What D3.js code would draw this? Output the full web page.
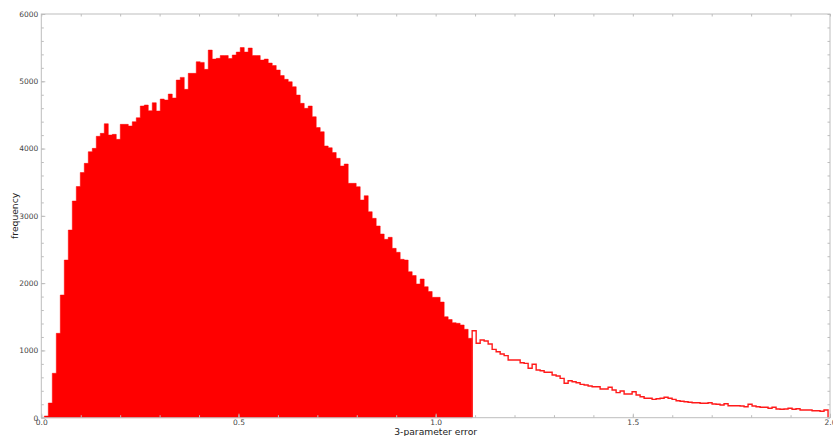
<!DOCTYPE html>
<html>
<head>
<meta charset="utf-8">
<script src="https://cdn.jsdelivr.net/npm/d3@7"></script>
<style>
  html, body { margin: 0; padding: 0; background: #fff; overflow: hidden; }
  svg { display: block; }
  .tick text { font-family: "DejaVu Sans", sans-serif; font-size: 7.5px; fill: #444; }
  .tick line { stroke: #bdbdbd; }
</style>
</head>
<body>
<svg id="chart" width="833" height="436"></svg>
<script>
// ---- data ----
const binStart = 0.0076;      // left edge of the first bin
const binWidth = 0.01014;     // width of each bin
// filled histogram (lower error values)
const filledCounts = [
  25, 218, 660, 1254, 1823, 2343, 2789, 3220, 3436, 3644,
  3780, 3953, 4003, 4182, 4226, 4369, 4201, 4211, 4137, 4360,
  4360, 4335, 4399, 4458, 4632, 4647, 4562, 4681, 4558, 4736,
  4721, 4810, 4751, 5018, 5058, 4880, 5118, 5118, 5290, 5281,
  5177, 5464, 5330, 5341, 5382, 5382, 5338, 5390, 5434, 5501,
  5434, 5494, 5382, 5382, 5315, 5330, 5271, 5234, 5167, 5085,
  5029, 4993, 4919, 4795, 4672, 4598, 4632, 4473, 4312, 4250,
  4038, 4012, 3941, 3855, 3740, 3770, 3483, 3483, 3433, 3235,
  3299, 3061, 2963, 2849, 2730, 2651, 2681, 2517, 2458, 2354,
  2343, 2170, 2113, 1987, 2061, 1947, 1875, 1789, 1789, 1719,
  1501, 1459, 1412, 1403, 1378, 1314, 1180
];
// step (outline) histogram (higher error values)
const stepCounts = [
  1293, 1106, 1155, 1140, 1095, 1016, 981, 947, 922, 857,
  857, 857, 817, 808, 734, 794, 709, 698, 675, 675,
  635, 620, 585, 511, 550, 535, 520, 496, 486, 471,
  461, 461, 426, 426, 452, 412, 372, 397, 352, 352,
  386, 337, 312, 288, 288, 273, 282, 288, 303, 288,
  273, 253, 244, 238, 229, 223, 223, 214, 214, 223,
  204, 199, 189, 208, 178, 178, 178, 174, 163, 199,
  174, 163, 155, 155, 140, 155, 129, 125, 129, 140,
  125, 134, 114, 114, 114, 104, 104, 95, 114
];
const xTicks = [0.0, 0.5, 1.0, 1.5, 2.0];
const xMinorTicks = d3.range(0, 21).map(i => i / 10);
const yTicks = [0, 1000, 2000, 3000, 4000, 5000, 6000];
const yMinorTicks = d3.range(0, 31).map(i => i * 200);
const xLabel = "3-parameter error";
const yLabel = "frequency";

// ---- layout ----
const svg = d3.select("#chart");
const mLeft = 41.3, mRight = 830, mTop = 14, mBottom = 417.7;
const x = d3.scaleLinear().domain([0, 2]).range([mLeft, mRight]);
const y = d3.scaleLinear().domain([0, 6000]).range([mBottom, mTop]);

// bins
const filledBins = filledCounts.map((c, i) => ({
  x0: binStart + i * binWidth, x1: binStart + (i + 1) * binWidth, c }));
const stepStart = binStart + filledCounts.length * binWidth;
const stepBins = stepCounts.map((c, i) => ({
  x0: stepStart + i * binWidth, x1: stepStart + (i + 1) * binWidth, c }));

// filled histogram as a single area path
const fillPts = [[filledBins[0].x0, 0]];
filledBins.forEach(b => { fillPts.push([b.x0, b.c]); fillPts.push([b.x1, b.c]); });
fillPts.push([filledBins[filledBins.length - 1].x1, 0]);
const line = d3.line().x(d => x(d[0])).y(d => y(d[1]));
svg.append("path")
  .attr("d", line(fillPts) + "Z")
  .attr("fill", "#ff0000")
  .attr("stroke", "#ff0000")
  .attr("stroke-width", 0.5);

// step histogram outline
const stepPts = [[stepBins[0].x0, 0]];
stepBins.forEach(b => { stepPts.push([b.x0, b.c]); stepPts.push([b.x1, b.c]); });
stepPts.push([stepBins[stepBins.length - 1].x1, 0]);
svg.append("path")
  .attr("d", line(stepPts))
  .attr("fill", "none")
  .attr("stroke", "#ff1a1a")
  .attr("stroke-width", 1.4);

// axes (ticks pointing inward)
function styleAxis(g) { g.select(".domain").remove(); }
svg.append("g").attr("transform", `translate(0,${mBottom})`)
  .call(d3.axisBottom(x).tickValues(xMinorTicks).tickSize(-2.5).tickFormat(""))
  .call(styleAxis);
svg.append("g").attr("transform", `translate(0,${mBottom})`)
  .call(d3.axisBottom(x).tickValues(xTicks).tickSize(-4).tickPadding(2).tickFormat(d3.format(".1f")))
  .call(styleAxis);
svg.append("g").attr("transform", `translate(0,${mTop})`)
  .call(d3.axisTop(x).tickValues(xMinorTicks).tickSize(-2.5).tickFormat(""))
  .call(styleAxis);
svg.append("g").attr("transform", `translate(${mLeft},0)`)
  .call(d3.axisLeft(y).tickValues(yMinorTicks).tickSize(-2.5).tickFormat(""))
  .call(styleAxis);
svg.append("g").attr("transform", `translate(${mLeft},0)`)
  .call(d3.axisLeft(y).tickValues(yTicks).tickSize(-4).tickPadding(3).tickFormat(d3.format("d")))
  .call(styleAxis);
svg.append("g").attr("transform", `translate(${mRight},0)`)
  .call(d3.axisRight(y).tickValues(yMinorTicks).tickSize(-2.5).tickFormat(""))
  .call(styleAxis);

// frame
svg.append("rect")
  .attr("x", mLeft).attr("y", mTop)
  .attr("width", mRight - mLeft).attr("height", mBottom - mTop)
  .attr("fill", "none").attr("stroke", "#bdbdbd").attr("stroke-width", 1);

// labels
svg.append("text")
  .attr("x", (mLeft + mRight) / 2).attr("y", 435)
  .attr("text-anchor", "middle")
  .attr("font-family", "DejaVu Sans, sans-serif").attr("font-size", 9.2)
  .attr("fill", "#222")
  .text(xLabel);
svg.append("text")
  .attr("transform", `translate(18,${(mTop + mBottom) / 2}) rotate(-90)`)
  .attr("text-anchor", "middle")
  .attr("font-family", "DejaVu Sans, sans-serif").attr("font-size", 9.2)
  .attr("fill", "#222")
  .text(yLabel);
</script>
</body>
</html>
